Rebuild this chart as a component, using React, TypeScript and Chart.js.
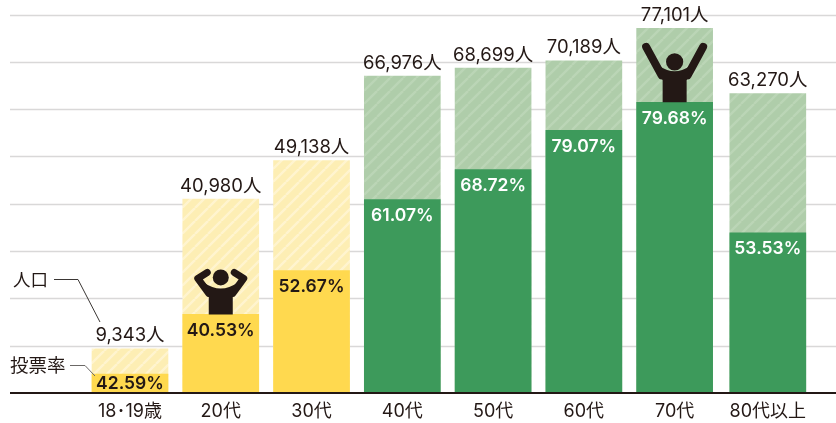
import React, { useEffect, useRef } from "react";
import { Chart, registerables } from "chart.js";

Chart.register(...registerables);

const categories = ["18･19歳", "20代", "30代", "40代", "50代", "60代", "70代", "80代以上"];
const population = [9343, 40980, 49138, 66976, 68699, 70189, 77101, 63270];
const voters = [3979, 16609, 25881, 40902, 47210, 55498, 61434, 33868];
const rates = ["42.59%", "40.53%", "52.67%", "61.07%", "68.72%", "79.07%", "79.68%", "53.53%"];
const populationLabels = ["9,343人", "40,980人", "49,138人", "66,976人", "68,699人", "70,189人", "77,101人", "63,270人"];
const yTicks = [0, 10000, 20000, 30000, 40000, 50000, 60000, 70000, 80000];
const isYoung = [true, true, true, false, false, false, false, false];

const INK = "#231815";
const FONT = '"Noto Sans CJK JP", "Noto Sans", sans-serif';
const NUM_FONT = 'Inter, "Noto Sans CJK JP", sans-serif';

function hatch(ctx: CanvasRenderingContext2D, bg: string, stripe: string) {
  const s = 13;
  const c = document.createElement("canvas");
  c.width = s;
  c.height = s;
  const g = c.getContext("2d")!;
  g.fillStyle = bg;
  g.fillRect(0, 0, s, s);
  g.strokeStyle = stripe;
  g.lineWidth = 2.4;
  for (const o of [-s, 0, s]) {
    g.beginPath();
    g.moveTo(o, s);
    g.lineTo(o + s, 0);
    g.stroke();
  }
  return ctx.createPattern(c, "repeat")!;
}

function drawCheer(ctx: CanvasRenderingContext2D, cx: number, bottom: number) {
  ctx.save();
  ctx.translate(cx, bottom);
  ctx.fillStyle = INK;
  ctx.strokeStyle = INK;
  ctx.lineCap = "round";
  ctx.lineJoin = "round";
  ctx.beginPath();
  ctx.arc(0, -40.5, 8.6, 0, Math.PI * 2);
  ctx.fill();
  ctx.lineWidth = 8;
  ctx.beginPath();
  ctx.moveTo(-28.5, -55.5);
  ctx.lineTo(-13, -27);
  ctx.moveTo(28.5, -55.5);
  ctx.lineTo(13, -27);
  ctx.stroke();
  ctx.beginPath();
  ctx.moveTo(-12, 0);
  ctx.lineTo(-12, -22);
  ctx.lineTo(-17, -30);
  ctx.lineTo(-15, -36);
  ctx.quadraticCurveTo(0, -26, 15, -36);
  ctx.lineTo(17, -30);
  ctx.lineTo(12, -22);
  ctx.lineTo(12, 0);
  ctx.closePath();
  ctx.fill();
  ctx.restore();
}

function drawHeadHold(ctx: CanvasRenderingContext2D, cx: number, bottom: number) {
  ctx.save();
  ctx.translate(cx, bottom);
  ctx.fillStyle = INK;
  ctx.strokeStyle = INK;
  ctx.lineCap = "round";
  ctx.lineJoin = "round";
  ctx.beginPath();
  ctx.arc(0, -37, 8, 0, Math.PI * 2);
  ctx.fill();
  ctx.lineWidth = 7;
  ctx.beginPath();
  ctx.moveTo(-13.5, -42);
  ctx.lineTo(-23, -36);
  ctx.lineTo(-12, -21);
  ctx.moveTo(13.5, -42);
  ctx.lineTo(23, -36);
  ctx.lineTo(12, -21);
  ctx.stroke();
  ctx.beginPath();
  ctx.moveTo(-12, 0);
  ctx.lineTo(-12, -18);
  ctx.lineTo(-20, -29);
  ctx.lineTo(-17, -32);
  ctx.quadraticCurveTo(0, -20, 17, -32);
  ctx.lineTo(20, -29);
  ctx.lineTo(12, -18);
  ctx.lineTo(12, 0);
  ctx.closePath();
  ctx.fill();
  ctx.restore();
}

const backdrop = {
  id: "backdrop",
  beforeDatasetsDraw(chart: any) {
    const { ctx, scales } = chart;
    ctx.save();
    ctx.strokeStyle = "#d9d8d8";
    ctx.lineWidth = 1.5;
    for (const v of yTicks.slice(1)) {
      const y = Math.round(scales.y.getPixelForValue(v)) + 0.5;
      ctx.beginPath();
      ctx.moveTo(10, y);
      ctx.lineTo(836, y);
      ctx.stroke();
    }
    ctx.restore();
  },
};

const overlay = {
  id: "overlay",
  afterDatasetsDraw(chart: any) {
    const { ctx, scales } = chart;
    const popMeta = chart.getDatasetMeta(0);
    const voteMeta = chart.getDatasetMeta(1);
    ctx.save();
    // baseline
    ctx.strokeStyle = INK;
    ctx.lineWidth = 2;
    const y0 = scales.y.getPixelForValue(0);
    ctx.beginPath();
    ctx.moveTo(10, y0);
    ctx.lineTo(836, y0);
    ctx.stroke();

    ctx.textAlign = "center";
    ctx.textBaseline = "middle";
    categories.forEach((_, i) => {
      const p = popMeta.data[i];
      const v = voteMeta.data[i];
      ctx.font = `400 18.5px ${NUM_FONT}`;
      ctx.fillStyle = INK;
      ctx.fillText(populationLabels[i], p.x, p.y - 13);
      ctx.font = `600 17.5px ${NUM_FONT}`;
      ctx.fillStyle = isYoung[i] ? INK : "#ffffff";
      ctx.fillText(rates[i], v.x, i === 0 ? (v.y + v.base) / 2 : v.y + 16);
    });
    drawHeadHold(ctx, popMeta.data[1].x, voteMeta.data[1].y);
    drawCheer(ctx, popMeta.data[6].x, voteMeta.data[6].y);

    // callouts
    ctx.textAlign = "left";
    ctx.fillStyle = INK;
    ctx.font = `400 17.5px ${FONT}`;
    ctx.fillText("人口", 13, 279);
    ctx.font = `400 18.5px ${FONT}`;
    ctx.fillText("投票率", 10, 365);
    ctx.strokeStyle = "#3a3634";
    ctx.lineWidth = 1;
    const px = popMeta.data[0].x;
    ctx.beginPath();
    ctx.moveTo(54, 279.5);
    ctx.lineTo(78, 279.5);
    ctx.lineTo(px - 30, 322);
    ctx.stroke();
    ctx.strokeStyle = "#6b6866";
    ctx.beginPath();
    ctx.moveTo(70, 365.5);
    ctx.lineTo(85, 365.5);
    ctx.lineTo(px - 35, 376);
    ctx.stroke();
    ctx.restore();
  },
};

export default function App() {
  const ref = useRef<HTMLCanvasElement>(null);
  useEffect(() => {
    const canvas = ref.current!;
    const ctx = canvas.getContext("2d")!;
    const yellowHatch = hatch(ctx, "#fdeeb4", "#fff4cf");
    const greenHatch = hatch(ctx, "#afcdaa", "#bbd5b6");
    const chart = new Chart(canvas, {
      type: "bar",
      data: {
        labels: categories,
        datasets: [
          {
            label: "人口",
            data: population,
            backgroundColor: isYoung.map((y) => (y ? yellowHatch : greenHatch)),
            grouped: false,
            order: 2,
            barThickness: 76,
          },
          {
            label: "投票率",
            data: voters,
            backgroundColor: isYoung.map((y) => (y ? "#ffd94f" : "#3d9a5b")),
            grouped: false,
            order: 1,
            barThickness: 76,
          },
        ],
      },
      options: {
        animation: false,
        responsive: false,
        layout: { padding: { left: 84.6, right: 25.2, top: 14.5, bottom: 0 } },
        plugins: { legend: { display: false }, tooltip: { enabled: false } },
        scales: {
          x: {
            grid: { display: false },
            border: { display: false },
            ticks: {
              color: INK,
              font: { family: NUM_FONT, size: 18 },
              padding: 0,
              maxRotation: 0,
              autoSkip: false,
            },
            afterFit(scale: any) {
              scale.height = 30;
            },
            afterUpdate(scale: any) {
              const base = scale.getPixelForValue.bind(scale);
              scale.getPixelForValue = (v: number, i?: number) =>
                base(v, i) + (v === categories.length - 1 ? 2.4 : 0);
            },
          },
          y: {
            display: false,
            min: 0,
            max: 80000,
          },
        },
      },
      plugins: [backdrop, overlay],
    } as any);
    return () => chart.destroy();
  }, []);
  return (
    <div style={{ position: "fixed", left: 0, top: 0, width: 836, height: 423, background: "#fff" }}>
      <canvas ref={ref} width={836} height={423} style={{ display: "block" }} />
    </div>
  );
}
